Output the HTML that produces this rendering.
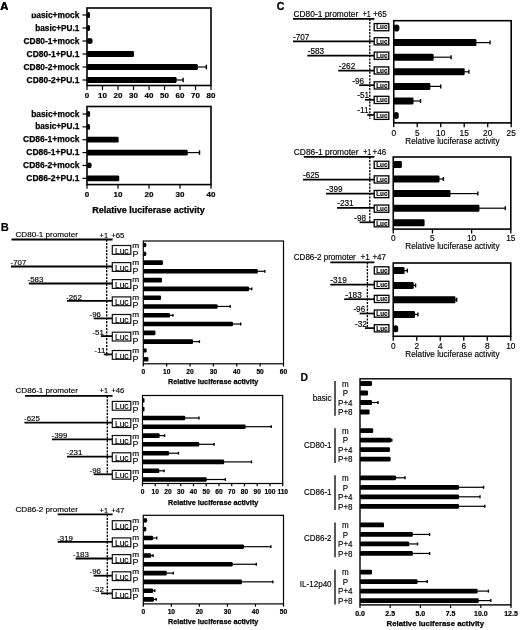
<!DOCTYPE html>
<html><head><meta charset="utf-8"><style>
html,body{margin:0;padding:0;background:#fff;}
svg{display:block;font-family:"Liberation Sans", sans-serif;filter:blur(0.3px);}
</style></head><body>
<svg width="520" height="630" viewBox="0 0 520 630">
<rect x="0" y="0" width="520" height="630" fill="#fff"/>
<text x="0.30" y="9.70" font-size="11.2" font-weight="bold" text-anchor="start" fill="#000" stroke="#000" stroke-width="0.15">A</text>
<rect x="87.00" y="8.00" width="124.00" height="77.50" fill="none" stroke="#000" stroke-width="1.6"/>
<line x1="82.50" y1="15.00" x2="87.00" y2="15.00" stroke="#000" stroke-width="1.2"/>
<rect x="87.00" y="12.00" width="3.00" height="6.00" rx="1.50" fill="#000"/>
<line x1="82.50" y1="28.00" x2="87.00" y2="28.00" stroke="#000" stroke-width="1.2"/>
<rect x="87.00" y="25.00" width="3.00" height="6.00" rx="1.50" fill="#000"/>
<line x1="82.50" y1="41.00" x2="87.00" y2="41.00" stroke="#000" stroke-width="1.2"/>
<rect x="87.00" y="38.00" width="5.58" height="6.00" rx="2.79" fill="#000"/>
<line x1="82.50" y1="54.00" x2="87.00" y2="54.00" stroke="#000" stroke-width="1.2"/>
<rect x="87.00" y="51.00" width="46.97" height="6.00" rx="1.20" fill="#000"/>
<line x1="82.50" y1="67.00" x2="87.00" y2="67.00" stroke="#000" stroke-width="1.2"/>
<rect x="87.00" y="64.00" width="110.83" height="6.00" rx="1.20" fill="#000"/>
<line x1="197.32" y1="67.00" x2="206.35" y2="67.00" stroke="#000" stroke-width="1.2"/>
<line x1="206.35" y1="64.70" x2="206.35" y2="69.30" stroke="#000" stroke-width="1.4"/>
<line x1="82.50" y1="80.00" x2="87.00" y2="80.00" stroke="#000" stroke-width="1.2"/>
<rect x="87.00" y="77.00" width="89.59" height="6.00" rx="1.20" fill="#000"/>
<line x1="176.09" y1="80.00" x2="183.10" y2="80.00" stroke="#000" stroke-width="1.2"/>
<line x1="183.10" y1="77.70" x2="183.10" y2="82.30" stroke="#000" stroke-width="1.4"/>
<line x1="87.00" y1="85.50" x2="87.00" y2="90.10" stroke="#000" stroke-width="1.2"/>
<text x="87.00" y="98.10" font-size="8.0" font-weight="bold" text-anchor="middle" fill="#000" stroke="#000" stroke-width="0.2">0</text>
<line x1="102.50" y1="85.50" x2="102.50" y2="90.10" stroke="#000" stroke-width="1.2"/>
<text x="102.50" y="98.10" font-size="8.0" font-weight="bold" text-anchor="middle" fill="#000" stroke="#000" stroke-width="0.2">10</text>
<line x1="118.00" y1="85.50" x2="118.00" y2="90.10" stroke="#000" stroke-width="1.2"/>
<text x="118.00" y="98.10" font-size="8.0" font-weight="bold" text-anchor="middle" fill="#000" stroke="#000" stroke-width="0.2">20</text>
<line x1="133.50" y1="85.50" x2="133.50" y2="90.10" stroke="#000" stroke-width="1.2"/>
<text x="133.50" y="98.10" font-size="8.0" font-weight="bold" text-anchor="middle" fill="#000" stroke="#000" stroke-width="0.2">30</text>
<line x1="149.00" y1="85.50" x2="149.00" y2="90.10" stroke="#000" stroke-width="1.2"/>
<text x="149.00" y="98.10" font-size="8.0" font-weight="bold" text-anchor="middle" fill="#000" stroke="#000" stroke-width="0.2">40</text>
<line x1="164.50" y1="85.50" x2="164.50" y2="90.10" stroke="#000" stroke-width="1.2"/>
<text x="164.50" y="98.10" font-size="8.0" font-weight="bold" text-anchor="middle" fill="#000" stroke="#000" stroke-width="0.2">50</text>
<line x1="180.00" y1="85.50" x2="180.00" y2="90.10" stroke="#000" stroke-width="1.2"/>
<text x="180.00" y="98.10" font-size="8.0" font-weight="bold" text-anchor="middle" fill="#000" stroke="#000" stroke-width="0.2">60</text>
<line x1="195.50" y1="85.50" x2="195.50" y2="90.10" stroke="#000" stroke-width="1.2"/>
<text x="195.50" y="98.10" font-size="8.0" font-weight="bold" text-anchor="middle" fill="#000" stroke="#000" stroke-width="0.2">70</text>
<line x1="211.00" y1="85.50" x2="211.00" y2="90.10" stroke="#000" stroke-width="1.2"/>
<text x="211.00" y="98.10" font-size="8.0" font-weight="bold" text-anchor="middle" fill="#000" stroke="#000" stroke-width="0.2">80</text>
<rect x="87.00" y="106.50" width="124.00" height="78.10" fill="none" stroke="#000" stroke-width="1.6"/>
<line x1="82.50" y1="114.00" x2="87.00" y2="114.00" stroke="#000" stroke-width="1.2"/>
<rect x="87.00" y="111.10" width="3.10" height="5.80" rx="1.55" fill="#000"/>
<line x1="82.50" y1="126.86" x2="87.00" y2="126.86" stroke="#000" stroke-width="1.2"/>
<rect x="87.00" y="123.96" width="3.00" height="5.80" rx="1.50" fill="#000"/>
<line x1="82.50" y1="139.72" x2="87.00" y2="139.72" stroke="#000" stroke-width="1.2"/>
<rect x="87.00" y="136.82" width="31.62" height="5.80" rx="1.20" fill="#000"/>
<line x1="82.50" y1="152.58" x2="87.00" y2="152.58" stroke="#000" stroke-width="1.2"/>
<rect x="87.00" y="149.68" width="100.75" height="5.80" rx="1.20" fill="#000"/>
<line x1="187.25" y1="152.58" x2="199.53" y2="152.58" stroke="#000" stroke-width="1.2"/>
<line x1="199.53" y1="150.28" x2="199.53" y2="154.88" stroke="#000" stroke-width="1.4"/>
<line x1="82.50" y1="165.44" x2="87.00" y2="165.44" stroke="#000" stroke-width="1.2"/>
<rect x="87.00" y="162.54" width="4.65" height="5.80" rx="2.33" fill="#000"/>
<line x1="82.50" y1="178.30" x2="87.00" y2="178.30" stroke="#000" stroke-width="1.2"/>
<rect x="87.00" y="175.40" width="32.24" height="5.80" rx="1.20" fill="#000"/>
<line x1="87.00" y1="184.60" x2="87.00" y2="188.80" stroke="#000" stroke-width="1.2"/>
<text x="87.00" y="197.10" font-size="8.0" font-weight="bold" text-anchor="middle" fill="#000" stroke="#000" stroke-width="0.2">0</text>
<line x1="118.00" y1="184.60" x2="118.00" y2="188.80" stroke="#000" stroke-width="1.2"/>
<text x="118.00" y="197.10" font-size="8.0" font-weight="bold" text-anchor="middle" fill="#000" stroke="#000" stroke-width="0.2">10</text>
<line x1="149.00" y1="184.60" x2="149.00" y2="188.80" stroke="#000" stroke-width="1.2"/>
<text x="149.00" y="197.10" font-size="8.0" font-weight="bold" text-anchor="middle" fill="#000" stroke="#000" stroke-width="0.2">20</text>
<line x1="180.00" y1="184.60" x2="180.00" y2="188.80" stroke="#000" stroke-width="1.2"/>
<text x="180.00" y="197.10" font-size="8.0" font-weight="bold" text-anchor="middle" fill="#000" stroke="#000" stroke-width="0.2">30</text>
<line x1="211.00" y1="184.60" x2="211.00" y2="188.80" stroke="#000" stroke-width="1.2"/>
<text x="211.00" y="197.10" font-size="8.0" font-weight="bold" text-anchor="middle" fill="#000" stroke="#000" stroke-width="0.2">40</text>
<text x="92.30" y="213.30" font-size="8.8" font-weight="bold" text-anchor="start" textLength="112.5" lengthAdjust="spacingAndGlyphs" fill="#000" stroke="#000" stroke-width="0.25">Relative luciferase activity</text>
<text x="79.40" y="17.50" font-size="8.4" font-weight="bold" text-anchor="end" textLength="48.2" lengthAdjust="spacingAndGlyphs" fill="#000" stroke="#000" stroke-width="0.25">basic+mock</text>
<text x="79.40" y="30.50" font-size="8.4" font-weight="bold" text-anchor="end" textLength="44.2" lengthAdjust="spacingAndGlyphs" fill="#000" stroke="#000" stroke-width="0.25">basic+PU.1</text>
<text x="79.40" y="43.50" font-size="8.4" font-weight="bold" text-anchor="end" textLength="55.9" lengthAdjust="spacingAndGlyphs" fill="#000" stroke="#000" stroke-width="0.25">CD80-1+mock</text>
<text x="79.40" y="56.50" font-size="8.4" font-weight="bold" text-anchor="end" textLength="52.8" lengthAdjust="spacingAndGlyphs" fill="#000" stroke="#000" stroke-width="0.25">CD80-1+PU.1</text>
<text x="79.40" y="69.50" font-size="8.4" font-weight="bold" text-anchor="end" textLength="55.9" lengthAdjust="spacingAndGlyphs" fill="#000" stroke="#000" stroke-width="0.25">CD80-2+mock</text>
<text x="79.40" y="82.50" font-size="8.4" font-weight="bold" text-anchor="end" textLength="52.8" lengthAdjust="spacingAndGlyphs" fill="#000" stroke="#000" stroke-width="0.25">CD80-2+PU.1</text>
<text x="79.40" y="116.50" font-size="8.4" font-weight="bold" text-anchor="end" textLength="48.2" lengthAdjust="spacingAndGlyphs" fill="#000" stroke="#000" stroke-width="0.25">basic+mock</text>
<text x="79.40" y="129.36" font-size="8.4" font-weight="bold" text-anchor="end" textLength="44.2" lengthAdjust="spacingAndGlyphs" fill="#000" stroke="#000" stroke-width="0.25">basic+PU.1</text>
<text x="79.40" y="142.22" font-size="8.4" font-weight="bold" text-anchor="end" textLength="56.4" lengthAdjust="spacingAndGlyphs" fill="#000" stroke="#000" stroke-width="0.25">CD86-1+mock</text>
<text x="79.40" y="155.08" font-size="8.4" font-weight="bold" text-anchor="end" textLength="53.1" lengthAdjust="spacingAndGlyphs" fill="#000" stroke="#000" stroke-width="0.25">CD86-1+PU.1</text>
<text x="79.40" y="167.94" font-size="8.4" font-weight="bold" text-anchor="end" textLength="56.4" lengthAdjust="spacingAndGlyphs" fill="#000" stroke="#000" stroke-width="0.25">CD86-2+mock</text>
<text x="79.40" y="180.80" font-size="8.4" font-weight="bold" text-anchor="end" textLength="53.1" lengthAdjust="spacingAndGlyphs" fill="#000" stroke="#000" stroke-width="0.25">CD86-2+PU.1</text>
<rect x="20.00" y="0.00" width="18.50" height="13.60" fill="#fff"/>
<text x="0.30" y="9.70" font-size="11.2" font-weight="bold" text-anchor="start" fill="#000" stroke="#000" stroke-width="0.15">A</text>
<text x="276.80" y="9.60" font-size="10.6" font-weight="bold" text-anchor="start" fill="#000" stroke="#000" stroke-width="0.3">C</text>
<text x="293.50" y="16.60" font-size="8.4" text-anchor="start" fill="#000" stroke="#000" stroke-width="0.15">CD80-1 promoter</text>
<line x1="293.00" y1="18.80" x2="374.40" y2="18.80" stroke="#000" stroke-width="1.7"/>
<text x="362.70" y="16.60" font-size="8.4" text-anchor="start" textLength="7.9" lengthAdjust="spacingAndGlyphs" fill="#000" stroke="#000" stroke-width="0.15">+1</text>
<text x="373.20" y="16.60" font-size="8.4" text-anchor="start" textLength="13.6" lengthAdjust="spacingAndGlyphs" fill="#000" stroke="#000" stroke-width="0.15">+65</text>
<line x1="369.80" y1="18.80" x2="369.80" y2="119.00" stroke="#000" stroke-width="1.3" stroke-dasharray="2.2,1.1"/>
<text x="293.00" y="39.80" font-size="8.2" text-anchor="start" fill="#000" stroke="#000" stroke-width="0.15">-707</text>
<line x1="293.00" y1="41.40" x2="374.40" y2="41.40" stroke="#000" stroke-width="1.7"/>
<text x="307.70" y="54.10" font-size="8.2" text-anchor="start" fill="#000" stroke="#000" stroke-width="0.15">-583</text>
<line x1="307.30" y1="55.70" x2="374.40" y2="55.70" stroke="#000" stroke-width="1.7"/>
<text x="338.80" y="69.00" font-size="8.2" text-anchor="start" fill="#000" stroke="#000" stroke-width="0.15">-262</text>
<line x1="338.20" y1="70.60" x2="374.40" y2="70.60" stroke="#000" stroke-width="1.7"/>
<text x="352.20" y="83.60" font-size="8.2" text-anchor="start" fill="#000" stroke="#000" stroke-width="0.15">-96</text>
<line x1="359.20" y1="85.20" x2="374.40" y2="85.20" stroke="#000" stroke-width="1.7"/>
<text x="357.30" y="98.20" font-size="8.2" text-anchor="start" fill="#000" stroke="#000" stroke-width="0.15">-51</text>
<line x1="365.00" y1="99.80" x2="374.40" y2="99.80" stroke="#000" stroke-width="1.7"/>
<text x="357.30" y="113.30" font-size="8.2" text-anchor="start" fill="#000" stroke="#000" stroke-width="0.15">-11</text>
<line x1="367.20" y1="114.90" x2="374.40" y2="114.90" stroke="#000" stroke-width="1.7"/>
<rect x="374.20" y="23.55" width="14.60" height="7.20" fill="#fff" stroke="#000" stroke-width="1.3"/>
<text x="381.80" y="29.45" font-size="6.6" font-weight="bold" text-anchor="middle" textLength="11.3" lengthAdjust="spacingAndGlyphs" fill="#000" stroke="#000" stroke-width="0.15">Luc</text>
<rect x="374.20" y="37.70" width="14.60" height="7.20" fill="#fff" stroke="#000" stroke-width="1.3"/>
<text x="381.80" y="43.60" font-size="6.6" font-weight="bold" text-anchor="middle" textLength="11.3" lengthAdjust="spacingAndGlyphs" fill="#000" stroke="#000" stroke-width="0.15">Luc</text>
<rect x="374.20" y="52.10" width="14.60" height="7.20" fill="#fff" stroke="#000" stroke-width="1.3"/>
<text x="381.80" y="58.00" font-size="6.6" font-weight="bold" text-anchor="middle" textLength="11.3" lengthAdjust="spacingAndGlyphs" fill="#000" stroke="#000" stroke-width="0.15">Luc</text>
<rect x="374.20" y="66.90" width="14.60" height="7.20" fill="#fff" stroke="#000" stroke-width="1.3"/>
<text x="381.80" y="72.80" font-size="6.6" font-weight="bold" text-anchor="middle" textLength="11.3" lengthAdjust="spacingAndGlyphs" fill="#000" stroke="#000" stroke-width="0.15">Luc</text>
<rect x="374.20" y="81.80" width="14.60" height="7.20" fill="#fff" stroke="#000" stroke-width="1.3"/>
<text x="381.80" y="87.70" font-size="6.6" font-weight="bold" text-anchor="middle" textLength="11.3" lengthAdjust="spacingAndGlyphs" fill="#000" stroke="#000" stroke-width="0.15">Luc</text>
<rect x="374.20" y="96.30" width="14.60" height="7.20" fill="#fff" stroke="#000" stroke-width="1.3"/>
<text x="381.80" y="102.20" font-size="6.6" font-weight="bold" text-anchor="middle" textLength="11.3" lengthAdjust="spacingAndGlyphs" fill="#000" stroke="#000" stroke-width="0.15">Luc</text>
<rect x="374.20" y="112.20" width="14.60" height="7.20" fill="#fff" stroke="#000" stroke-width="1.3"/>
<text x="381.80" y="118.10" font-size="6.6" font-weight="bold" text-anchor="middle" textLength="11.3" lengthAdjust="spacingAndGlyphs" fill="#000" stroke="#000" stroke-width="0.15">Luc</text>
<rect x="393.75" y="20.70" width="117.45" height="102.20" fill="none" stroke="#000" stroke-width="1.6"/>
<rect x="393.75" y="24.50" width="5.64" height="7.00" rx="2.82" fill="#000"/>
<rect x="393.75" y="39.10" width="82.68" height="7.00" rx="1.20" fill="#000"/>
<line x1="475.93" y1="42.60" x2="490.06" y2="42.60" stroke="#000" stroke-width="1.2"/>
<line x1="490.06" y1="40.60" x2="490.06" y2="44.60" stroke="#000" stroke-width="1.4"/>
<rect x="393.75" y="53.70" width="39.93" height="7.00" rx="1.20" fill="#000"/>
<line x1="433.18" y1="57.20" x2="451.07" y2="57.20" stroke="#000" stroke-width="1.2"/>
<line x1="451.07" y1="55.20" x2="451.07" y2="59.20" stroke="#000" stroke-width="1.4"/>
<rect x="393.75" y="68.30" width="70.94" height="7.00" rx="1.20" fill="#000"/>
<line x1="464.19" y1="71.80" x2="468.92" y2="71.80" stroke="#000" stroke-width="1.2"/>
<line x1="468.92" y1="69.80" x2="468.92" y2="73.80" stroke="#000" stroke-width="1.4"/>
<rect x="393.75" y="82.90" width="36.64" height="7.00" rx="1.20" fill="#000"/>
<line x1="429.89" y1="86.40" x2="440.73" y2="86.40" stroke="#000" stroke-width="1.2"/>
<line x1="440.73" y1="84.40" x2="440.73" y2="88.40" stroke="#000" stroke-width="1.4"/>
<rect x="393.75" y="97.50" width="19.73" height="7.00" rx="1.20" fill="#000"/>
<line x1="412.98" y1="101.00" x2="420.53" y2="101.00" stroke="#000" stroke-width="1.2"/>
<line x1="420.53" y1="99.00" x2="420.53" y2="103.00" stroke="#000" stroke-width="1.4"/>
<rect x="393.75" y="112.10" width="5.00" height="7.00" rx="2.50" fill="#000"/>
<line x1="393.75" y1="122.90" x2="393.75" y2="127.30" stroke="#000" stroke-width="1.3"/>
<text x="393.75" y="135.50" font-size="8.3" text-anchor="middle" fill="#000" stroke="#000" stroke-width="0.15">0</text>
<line x1="417.24" y1="122.90" x2="417.24" y2="127.30" stroke="#000" stroke-width="1.3"/>
<text x="417.24" y="135.50" font-size="8.3" text-anchor="middle" fill="#000" stroke="#000" stroke-width="0.15">5</text>
<line x1="440.73" y1="122.90" x2="440.73" y2="127.30" stroke="#000" stroke-width="1.3"/>
<text x="440.73" y="135.50" font-size="8.3" text-anchor="middle" fill="#000" stroke="#000" stroke-width="0.15">10</text>
<line x1="464.22" y1="122.90" x2="464.22" y2="127.30" stroke="#000" stroke-width="1.3"/>
<text x="464.22" y="135.50" font-size="8.3" text-anchor="middle" fill="#000" stroke="#000" stroke-width="0.15">15</text>
<line x1="487.71" y1="122.90" x2="487.71" y2="127.30" stroke="#000" stroke-width="1.3"/>
<text x="487.71" y="135.50" font-size="8.3" text-anchor="middle" fill="#000" stroke="#000" stroke-width="0.15">20</text>
<line x1="511.20" y1="122.90" x2="511.20" y2="127.30" stroke="#000" stroke-width="1.3"/>
<text x="511.20" y="135.50" font-size="8.3" text-anchor="middle" fill="#000" stroke="#000" stroke-width="0.15">25</text>
<text x="405.30" y="144.10" font-size="8.6" text-anchor="start" textLength="94.2" lengthAdjust="spacingAndGlyphs" fill="#000" stroke="#000" stroke-width="0.15">Relative luciferase activity</text>
<text x="293.80" y="154.50" font-size="8.4" text-anchor="start" fill="#000" stroke="#000" stroke-width="0.15">CD86-1 promoter</text>
<line x1="303.80" y1="156.80" x2="374.40" y2="156.80" stroke="#000" stroke-width="1.7"/>
<text x="363.20" y="154.50" font-size="8.4" text-anchor="start" textLength="7.9" lengthAdjust="spacingAndGlyphs" fill="#000" stroke="#000" stroke-width="0.15">+1</text>
<text x="372.60" y="154.50" font-size="8.4" text-anchor="start" textLength="13.6" lengthAdjust="spacingAndGlyphs" fill="#000" stroke="#000" stroke-width="0.15">+46</text>
<line x1="369.80" y1="156.80" x2="369.80" y2="222.00" stroke="#000" stroke-width="1.3" stroke-dasharray="2.2,1.1"/>
<text x="303.00" y="178.00" font-size="8.2" text-anchor="start" fill="#000" stroke="#000" stroke-width="0.15">-625</text>
<line x1="303.00" y1="179.60" x2="374.40" y2="179.60" stroke="#000" stroke-width="1.7"/>
<text x="326.20" y="192.10" font-size="8.2" text-anchor="start" fill="#000" stroke="#000" stroke-width="0.15">-399</text>
<line x1="326.00" y1="193.70" x2="374.40" y2="193.70" stroke="#000" stroke-width="1.7"/>
<text x="337.20" y="206.30" font-size="8.2" text-anchor="start" fill="#000" stroke="#000" stroke-width="0.15">-231</text>
<line x1="337.00" y1="207.90" x2="374.40" y2="207.90" stroke="#000" stroke-width="1.7"/>
<text x="354.30" y="220.70" font-size="8.2" text-anchor="start" fill="#000" stroke="#000" stroke-width="0.15">-98</text>
<line x1="359.60" y1="222.30" x2="374.40" y2="222.30" stroke="#000" stroke-width="1.7"/>
<rect x="374.20" y="161.25" width="14.60" height="7.20" fill="#fff" stroke="#000" stroke-width="1.3"/>
<text x="381.80" y="167.15" font-size="6.6" font-weight="bold" text-anchor="middle" textLength="11.3" lengthAdjust="spacingAndGlyphs" fill="#000" stroke="#000" stroke-width="0.15">Luc</text>
<rect x="374.20" y="175.85" width="14.60" height="7.20" fill="#fff" stroke="#000" stroke-width="1.3"/>
<text x="381.80" y="181.75" font-size="6.6" font-weight="bold" text-anchor="middle" textLength="11.3" lengthAdjust="spacingAndGlyphs" fill="#000" stroke="#000" stroke-width="0.15">Luc</text>
<rect x="374.20" y="190.45" width="14.60" height="7.20" fill="#fff" stroke="#000" stroke-width="1.3"/>
<text x="381.80" y="196.35" font-size="6.6" font-weight="bold" text-anchor="middle" textLength="11.3" lengthAdjust="spacingAndGlyphs" fill="#000" stroke="#000" stroke-width="0.15">Luc</text>
<rect x="374.20" y="205.05" width="14.60" height="7.20" fill="#fff" stroke="#000" stroke-width="1.3"/>
<text x="381.80" y="210.95" font-size="6.6" font-weight="bold" text-anchor="middle" textLength="11.3" lengthAdjust="spacingAndGlyphs" fill="#000" stroke="#000" stroke-width="0.15">Luc</text>
<rect x="374.20" y="219.65" width="14.60" height="7.20" fill="#fff" stroke="#000" stroke-width="1.3"/>
<text x="381.80" y="225.55" font-size="6.6" font-weight="bold" text-anchor="middle" textLength="11.3" lengthAdjust="spacingAndGlyphs" fill="#000" stroke="#000" stroke-width="0.15">Luc</text>
<rect x="393.25" y="157.00" width="117.55" height="72.10" fill="none" stroke="#000" stroke-width="1.6"/>
<rect x="393.25" y="160.90" width="8.62" height="7.00" rx="1.20" fill="#000"/>
<rect x="393.25" y="175.50" width="46.24" height="7.00" rx="1.20" fill="#000"/>
<line x1="438.99" y1="179.00" x2="443.40" y2="179.00" stroke="#000" stroke-width="1.2"/>
<line x1="443.40" y1="177.00" x2="443.40" y2="181.00" stroke="#000" stroke-width="1.4"/>
<rect x="393.25" y="190.10" width="57.21" height="7.00" rx="1.20" fill="#000"/>
<line x1="449.96" y1="193.60" x2="477.89" y2="193.60" stroke="#000" stroke-width="1.2"/>
<line x1="477.89" y1="191.60" x2="477.89" y2="195.60" stroke="#000" stroke-width="1.4"/>
<rect x="393.25" y="204.70" width="86.20" height="7.00" rx="1.20" fill="#000"/>
<line x1="478.95" y1="208.20" x2="505.31" y2="208.20" stroke="#000" stroke-width="1.2"/>
<line x1="505.31" y1="206.20" x2="505.31" y2="210.20" stroke="#000" stroke-width="1.4"/>
<rect x="393.25" y="219.30" width="31.35" height="7.00" rx="1.20" fill="#000"/>
<line x1="393.25" y1="229.10" x2="393.25" y2="233.50" stroke="#000" stroke-width="1.3"/>
<text x="393.25" y="240.80" font-size="8.3" text-anchor="middle" fill="#000" stroke="#000" stroke-width="0.15">0</text>
<line x1="432.43" y1="229.10" x2="432.43" y2="233.50" stroke="#000" stroke-width="1.3"/>
<text x="432.43" y="240.80" font-size="8.3" text-anchor="middle" fill="#000" stroke="#000" stroke-width="0.15">5</text>
<line x1="471.62" y1="229.10" x2="471.62" y2="233.50" stroke="#000" stroke-width="1.3"/>
<text x="471.62" y="240.80" font-size="8.3" text-anchor="middle" fill="#000" stroke="#000" stroke-width="0.15">10</text>
<line x1="510.80" y1="229.10" x2="510.80" y2="233.50" stroke="#000" stroke-width="1.3"/>
<text x="510.80" y="240.80" font-size="8.3" text-anchor="middle" fill="#000" stroke="#000" stroke-width="0.15">15</text>
<text x="405.30" y="249.10" font-size="8.6" text-anchor="start" textLength="94.2" lengthAdjust="spacingAndGlyphs" fill="#000" stroke="#000" stroke-width="0.15">Relative luciferase activity</text>
<text x="293.80" y="260.10" font-size="8.4" text-anchor="start" textLength="62.0" lengthAdjust="spacingAndGlyphs" fill="#000" stroke="#000" stroke-width="0.15">CD86-2 promoter</text>
<line x1="330.30" y1="262.30" x2="374.40" y2="262.30" stroke="#000" stroke-width="1.7"/>
<text x="360.50" y="260.10" font-size="8.4" text-anchor="start" textLength="9.4" lengthAdjust="spacingAndGlyphs" fill="#000" stroke="#000" stroke-width="0.15">+1</text>
<text x="372.40" y="260.10" font-size="8.4" text-anchor="start" textLength="13.6" lengthAdjust="spacingAndGlyphs" fill="#000" stroke="#000" stroke-width="0.15">+47</text>
<line x1="367.40" y1="262.30" x2="367.40" y2="328.00" stroke="#000" stroke-width="1.3" stroke-dasharray="2.2,1.1"/>
<text x="330.30" y="283.10" font-size="8.2" text-anchor="start" fill="#000" stroke="#000" stroke-width="0.15">-319</text>
<line x1="330.30" y1="284.70" x2="374.40" y2="284.70" stroke="#000" stroke-width="1.7"/>
<text x="345.30" y="297.60" font-size="8.2" text-anchor="start" fill="#000" stroke="#000" stroke-width="0.15">-183</text>
<line x1="344.20" y1="299.20" x2="374.40" y2="299.20" stroke="#000" stroke-width="1.7"/>
<text x="353.40" y="311.90" font-size="8.2" text-anchor="start" fill="#000" stroke="#000" stroke-width="0.15">-96</text>
<line x1="359.60" y1="313.50" x2="374.40" y2="313.50" stroke="#000" stroke-width="1.7"/>
<text x="355.00" y="326.50" font-size="8.2" text-anchor="start" fill="#000" stroke="#000" stroke-width="0.15">-32</text>
<line x1="365.00" y1="328.10" x2="374.40" y2="328.10" stroke="#000" stroke-width="1.7"/>
<rect x="374.30" y="266.80" width="14.60" height="7.20" fill="#fff" stroke="#000" stroke-width="1.3"/>
<text x="381.90" y="272.70" font-size="6.6" font-weight="bold" text-anchor="middle" textLength="11.3" lengthAdjust="spacingAndGlyphs" fill="#000" stroke="#000" stroke-width="0.15">Luc</text>
<rect x="374.30" y="281.30" width="14.60" height="7.20" fill="#fff" stroke="#000" stroke-width="1.3"/>
<text x="381.90" y="287.20" font-size="6.6" font-weight="bold" text-anchor="middle" textLength="11.3" lengthAdjust="spacingAndGlyphs" fill="#000" stroke="#000" stroke-width="0.15">Luc</text>
<rect x="374.30" y="295.30" width="14.60" height="7.20" fill="#fff" stroke="#000" stroke-width="1.3"/>
<text x="381.90" y="301.20" font-size="6.6" font-weight="bold" text-anchor="middle" textLength="11.3" lengthAdjust="spacingAndGlyphs" fill="#000" stroke="#000" stroke-width="0.15">Luc</text>
<rect x="374.30" y="310.00" width="14.60" height="7.20" fill="#fff" stroke="#000" stroke-width="1.3"/>
<text x="381.90" y="315.90" font-size="6.6" font-weight="bold" text-anchor="middle" textLength="11.3" lengthAdjust="spacingAndGlyphs" fill="#000" stroke="#000" stroke-width="0.15">Luc</text>
<rect x="374.30" y="324.70" width="14.60" height="7.20" fill="#fff" stroke="#000" stroke-width="1.3"/>
<text x="381.90" y="330.60" font-size="6.6" font-weight="bold" text-anchor="middle" textLength="11.3" lengthAdjust="spacingAndGlyphs" fill="#000" stroke="#000" stroke-width="0.15">Luc</text>
<rect x="393.25" y="263.00" width="117.50" height="73.25" fill="none" stroke="#000" stroke-width="1.6"/>
<rect x="393.25" y="267.10" width="11.28" height="7.00" rx="1.20" fill="#000"/>
<line x1="404.03" y1="270.60" x2="407.35" y2="270.60" stroke="#000" stroke-width="1.2"/>
<line x1="407.35" y1="268.60" x2="407.35" y2="272.60" stroke="#000" stroke-width="1.4"/>
<rect x="393.25" y="281.90" width="20.45" height="7.00" rx="1.20" fill="#000"/>
<line x1="413.19" y1="285.40" x2="415.57" y2="285.40" stroke="#000" stroke-width="1.2"/>
<line x1="415.57" y1="283.40" x2="415.57" y2="287.40" stroke="#000" stroke-width="1.4"/>
<rect x="393.25" y="296.30" width="62.27" height="7.00" rx="1.20" fill="#000"/>
<line x1="455.02" y1="299.80" x2="456.70" y2="299.80" stroke="#000" stroke-width="1.2"/>
<line x1="456.70" y1="297.80" x2="456.70" y2="301.80" stroke="#000" stroke-width="1.4"/>
<rect x="393.25" y="310.90" width="21.74" height="7.00" rx="1.20" fill="#000"/>
<line x1="414.49" y1="314.40" x2="417.93" y2="314.40" stroke="#000" stroke-width="1.2"/>
<line x1="417.93" y1="312.40" x2="417.93" y2="316.40" stroke="#000" stroke-width="1.4"/>
<rect x="393.25" y="325.25" width="5.00" height="7.00" rx="2.50" fill="#000"/>
<line x1="393.25" y1="336.25" x2="393.25" y2="340.65" stroke="#000" stroke-width="1.3"/>
<text x="393.25" y="348.80" font-size="8.3" text-anchor="middle" fill="#000" stroke="#000" stroke-width="0.15">0</text>
<line x1="416.75" y1="336.25" x2="416.75" y2="340.65" stroke="#000" stroke-width="1.3"/>
<text x="416.75" y="348.80" font-size="8.3" text-anchor="middle" fill="#000" stroke="#000" stroke-width="0.15">2</text>
<line x1="440.25" y1="336.25" x2="440.25" y2="340.65" stroke="#000" stroke-width="1.3"/>
<text x="440.25" y="348.80" font-size="8.3" text-anchor="middle" fill="#000" stroke="#000" stroke-width="0.15">4</text>
<line x1="463.75" y1="336.25" x2="463.75" y2="340.65" stroke="#000" stroke-width="1.3"/>
<text x="463.75" y="348.80" font-size="8.3" text-anchor="middle" fill="#000" stroke="#000" stroke-width="0.15">6</text>
<line x1="487.25" y1="336.25" x2="487.25" y2="340.65" stroke="#000" stroke-width="1.3"/>
<text x="487.25" y="348.80" font-size="8.3" text-anchor="middle" fill="#000" stroke="#000" stroke-width="0.15">8</text>
<line x1="510.75" y1="336.25" x2="510.75" y2="340.65" stroke="#000" stroke-width="1.3"/>
<text x="510.75" y="348.80" font-size="8.3" text-anchor="middle" fill="#000" stroke="#000" stroke-width="0.15">10</text>
<text x="405.30" y="357.10" font-size="8.6" text-anchor="start" textLength="94.2" lengthAdjust="spacingAndGlyphs" fill="#000" stroke="#000" stroke-width="0.15">Relative luciferase activity</text>
<text x="0.80" y="231.00" font-size="11.2" font-weight="bold" text-anchor="start" fill="#000" stroke="#000" stroke-width="0.15">B</text>
<text x="15.50" y="237.20" font-size="8" text-anchor="start" textLength="62.5" lengthAdjust="spacingAndGlyphs" fill="#000" stroke="#000" stroke-width="0.15">CD80-1 promoter</text>
<line x1="11.50" y1="239.50" x2="112.60" y2="239.50" stroke="#000" stroke-width="1.8"/>
<text x="99.60" y="237.70" font-size="8" text-anchor="start" textLength="8.4" lengthAdjust="spacingAndGlyphs" fill="#000" stroke="#000" stroke-width="0.15">+1</text>
<text x="111.20" y="237.70" font-size="8" text-anchor="start" textLength="13.2" lengthAdjust="spacingAndGlyphs" fill="#000" stroke="#000" stroke-width="0.15">+65</text>
<line x1="106.70" y1="239.50" x2="106.70" y2="355.50" stroke="#000" stroke-width="1.35" stroke-dasharray="2.2,1.2"/>
<rect x="112.30" y="245.50" width="18.50" height="8.80" fill="#fff" stroke="#111" stroke-width="1.2"/>
<text x="121.75" y="253.50" font-size="8.6" text-anchor="middle" textLength="13.6" lengthAdjust="spacingAndGlyphs" fill="#000" stroke="#000" stroke-width="0.15">Luc</text>
<text x="132.30" y="248.10" font-size="7.7" text-anchor="start" textLength="6.9" lengthAdjust="spacingAndGlyphs" fill="#000" stroke="#000" stroke-width="0.15">m</text>
<text x="132.40" y="256.80" font-size="8.9" text-anchor="start" fill="#000" stroke="#000" stroke-width="0.1">P</text>
<text x="10.50" y="265.20" font-size="7.9" text-anchor="start" fill="#000" stroke="#000" stroke-width="0.15">-707</text>
<line x1="11.00" y1="266.50" x2="112.40" y2="266.50" stroke="#000" stroke-width="1.8"/>
<rect x="112.30" y="262.60" width="18.50" height="8.80" fill="#fff" stroke="#111" stroke-width="1.2"/>
<text x="121.75" y="270.60" font-size="8.6" text-anchor="middle" textLength="13.6" lengthAdjust="spacingAndGlyphs" fill="#000" stroke="#000" stroke-width="0.15">Luc</text>
<text x="132.30" y="265.20" font-size="7.7" text-anchor="start" textLength="6.9" lengthAdjust="spacingAndGlyphs" fill="#000" stroke="#000" stroke-width="0.15">m</text>
<text x="132.40" y="273.90" font-size="8.9" text-anchor="start" fill="#000" stroke="#000" stroke-width="0.1">P</text>
<text x="27.50" y="282.20" font-size="7.9" text-anchor="start" fill="#000" stroke="#000" stroke-width="0.15">-583</text>
<line x1="28.80" y1="283.50" x2="112.40" y2="283.50" stroke="#000" stroke-width="1.8"/>
<rect x="112.30" y="279.60" width="18.50" height="8.80" fill="#fff" stroke="#111" stroke-width="1.2"/>
<text x="121.75" y="287.60" font-size="8.6" text-anchor="middle" textLength="13.6" lengthAdjust="spacingAndGlyphs" fill="#000" stroke="#000" stroke-width="0.15">Luc</text>
<text x="132.30" y="282.20" font-size="7.7" text-anchor="start" textLength="6.9" lengthAdjust="spacingAndGlyphs" fill="#000" stroke="#000" stroke-width="0.15">m</text>
<text x="132.40" y="290.90" font-size="8.9" text-anchor="start" fill="#000" stroke="#000" stroke-width="0.1">P</text>
<text x="66.00" y="299.50" font-size="7.9" text-anchor="start" fill="#000" stroke="#000" stroke-width="0.15">-262</text>
<line x1="67.00" y1="300.80" x2="112.40" y2="300.80" stroke="#000" stroke-width="1.8"/>
<rect x="112.30" y="296.90" width="18.50" height="8.80" fill="#fff" stroke="#111" stroke-width="1.2"/>
<text x="121.75" y="304.90" font-size="8.6" text-anchor="middle" textLength="13.6" lengthAdjust="spacingAndGlyphs" fill="#000" stroke="#000" stroke-width="0.15">Luc</text>
<text x="132.30" y="299.50" font-size="7.7" text-anchor="start" textLength="6.9" lengthAdjust="spacingAndGlyphs" fill="#000" stroke="#000" stroke-width="0.15">m</text>
<text x="132.40" y="308.20" font-size="8.9" text-anchor="start" fill="#000" stroke="#000" stroke-width="0.1">P</text>
<text x="89.50" y="317.10" font-size="7.9" text-anchor="start" fill="#000" stroke="#000" stroke-width="0.15">-96</text>
<line x1="93.70" y1="318.40" x2="112.40" y2="318.40" stroke="#000" stroke-width="1.8"/>
<rect x="112.30" y="314.50" width="18.50" height="8.80" fill="#fff" stroke="#111" stroke-width="1.2"/>
<text x="121.75" y="322.50" font-size="8.6" text-anchor="middle" textLength="13.6" lengthAdjust="spacingAndGlyphs" fill="#000" stroke="#000" stroke-width="0.15">Luc</text>
<text x="132.30" y="317.10" font-size="7.7" text-anchor="start" textLength="6.9" lengthAdjust="spacingAndGlyphs" fill="#000" stroke="#000" stroke-width="0.15">m</text>
<text x="132.40" y="325.80" font-size="8.9" text-anchor="start" fill="#000" stroke="#000" stroke-width="0.1">P</text>
<text x="92.40" y="334.80" font-size="7.9" text-anchor="start" fill="#000" stroke="#000" stroke-width="0.15">-51</text>
<line x1="101.00" y1="336.10" x2="112.40" y2="336.10" stroke="#000" stroke-width="1.8"/>
<rect x="112.30" y="332.20" width="18.50" height="8.80" fill="#fff" stroke="#111" stroke-width="1.2"/>
<text x="121.75" y="340.20" font-size="8.6" text-anchor="middle" textLength="13.6" lengthAdjust="spacingAndGlyphs" fill="#000" stroke="#000" stroke-width="0.15">Luc</text>
<text x="132.30" y="334.80" font-size="7.7" text-anchor="start" textLength="6.9" lengthAdjust="spacingAndGlyphs" fill="#000" stroke="#000" stroke-width="0.15">m</text>
<text x="132.40" y="343.50" font-size="8.9" text-anchor="start" fill="#000" stroke="#000" stroke-width="0.1">P</text>
<text x="94.50" y="353.10" font-size="7.9" text-anchor="start" fill="#000" stroke="#000" stroke-width="0.15">-11</text>
<line x1="103.80" y1="354.40" x2="112.40" y2="354.40" stroke="#000" stroke-width="1.8"/>
<rect x="112.30" y="350.50" width="18.50" height="8.80" fill="#fff" stroke="#111" stroke-width="1.2"/>
<text x="121.75" y="358.50" font-size="8.6" text-anchor="middle" textLength="13.6" lengthAdjust="spacingAndGlyphs" fill="#000" stroke="#000" stroke-width="0.15">Luc</text>
<text x="132.30" y="353.10" font-size="7.7" text-anchor="start" textLength="6.9" lengthAdjust="spacingAndGlyphs" fill="#000" stroke="#000" stroke-width="0.15">m</text>
<text x="132.40" y="361.80" font-size="8.9" text-anchor="start" fill="#000" stroke="#000" stroke-width="0.1">P</text>
<rect x="143.30" y="241.00" width="140.20" height="122.80" fill="none" stroke="#000" stroke-width="1.2"/>
<rect x="143.30" y="242.70" width="3.00" height="4.60" rx="1.50" fill="#000"/>
<rect x="143.30" y="251.40" width="3.00" height="4.60" rx="1.50" fill="#000"/>
<rect x="143.30" y="260.28" width="19.63" height="4.60" rx="1.20" fill="#000"/>
<rect x="143.30" y="268.98" width="114.50" height="4.60" rx="1.20" fill="#000"/>
<line x1="257.30" y1="271.28" x2="264.81" y2="271.28" stroke="#000" stroke-width="1.2"/>
<line x1="264.81" y1="269.88" x2="264.81" y2="272.68" stroke="#000" stroke-width="1.4"/>
<rect x="143.30" y="277.86" width="18.69" height="4.60" rx="1.20" fill="#000"/>
<rect x="143.30" y="286.56" width="105.85" height="4.60" rx="1.20" fill="#000"/>
<line x1="248.65" y1="288.86" x2="251.72" y2="288.86" stroke="#000" stroke-width="1.2"/>
<line x1="251.72" y1="287.46" x2="251.72" y2="290.26" stroke="#000" stroke-width="1.4"/>
<rect x="143.30" y="295.44" width="17.76" height="4.60" rx="1.20" fill="#000"/>
<rect x="143.30" y="304.14" width="74.31" height="4.60" rx="1.20" fill="#000"/>
<line x1="217.11" y1="306.44" x2="230.22" y2="306.44" stroke="#000" stroke-width="1.2"/>
<line x1="230.22" y1="305.04" x2="230.22" y2="307.84" stroke="#000" stroke-width="1.4"/>
<rect x="143.30" y="313.02" width="26.64" height="4.60" rx="1.20" fill="#000"/>
<line x1="169.44" y1="315.32" x2="172.98" y2="315.32" stroke="#000" stroke-width="1.2"/>
<line x1="172.98" y1="313.92" x2="172.98" y2="316.72" stroke="#000" stroke-width="1.4"/>
<rect x="143.30" y="321.72" width="89.73" height="4.60" rx="1.20" fill="#000"/>
<line x1="232.53" y1="324.02" x2="240.74" y2="324.02" stroke="#000" stroke-width="1.2"/>
<line x1="240.74" y1="322.62" x2="240.74" y2="325.42" stroke="#000" stroke-width="1.4"/>
<rect x="143.30" y="330.60" width="12.15" height="4.60" rx="1.20" fill="#000"/>
<rect x="143.30" y="339.30" width="49.77" height="4.60" rx="1.20" fill="#000"/>
<line x1="192.57" y1="341.60" x2="199.38" y2="341.60" stroke="#000" stroke-width="1.2"/>
<line x1="199.38" y1="340.20" x2="199.38" y2="343.00" stroke="#000" stroke-width="1.4"/>
<rect x="143.30" y="348.18" width="3.50" height="4.60" rx="1.75" fill="#000"/>
<rect x="143.30" y="356.88" width="5.14" height="4.60" rx="1.20" fill="#000"/>
<line x1="143.30" y1="363.80" x2="143.30" y2="366.60" stroke="#000" stroke-width="1.2"/>
<text x="143.30" y="374.40" font-size="6.6" font-weight="bold" text-anchor="middle" fill="#000" stroke="#000" stroke-width="0.2">0</text>
<line x1="166.67" y1="363.80" x2="166.67" y2="366.60" stroke="#000" stroke-width="1.2"/>
<text x="166.67" y="374.40" font-size="6.6" font-weight="bold" text-anchor="middle" fill="#000" stroke="#000" stroke-width="0.2">10</text>
<line x1="190.03" y1="363.80" x2="190.03" y2="366.60" stroke="#000" stroke-width="1.2"/>
<text x="190.03" y="374.40" font-size="6.6" font-weight="bold" text-anchor="middle" fill="#000" stroke="#000" stroke-width="0.2">20</text>
<line x1="213.40" y1="363.80" x2="213.40" y2="366.60" stroke="#000" stroke-width="1.2"/>
<text x="213.40" y="374.40" font-size="6.6" font-weight="bold" text-anchor="middle" fill="#000" stroke="#000" stroke-width="0.2">30</text>
<line x1="236.77" y1="363.80" x2="236.77" y2="366.60" stroke="#000" stroke-width="1.2"/>
<text x="236.77" y="374.40" font-size="6.6" font-weight="bold" text-anchor="middle" fill="#000" stroke="#000" stroke-width="0.2">40</text>
<line x1="260.13" y1="363.80" x2="260.13" y2="366.60" stroke="#000" stroke-width="1.2"/>
<text x="260.13" y="374.40" font-size="6.6" font-weight="bold" text-anchor="middle" fill="#000" stroke="#000" stroke-width="0.2">50</text>
<line x1="283.50" y1="363.80" x2="283.50" y2="366.60" stroke="#000" stroke-width="1.2"/>
<text x="283.50" y="374.40" font-size="6.6" font-weight="bold" text-anchor="middle" fill="#000" stroke="#000" stroke-width="0.2">60</text>
<text x="168.00" y="383.60" font-size="7.4" font-weight="bold" text-anchor="start" textLength="90.3" lengthAdjust="spacingAndGlyphs" fill="#000" stroke="#000" stroke-width="0.25">Relative luciferase activity</text>
<text x="15.50" y="392.50" font-size="8" text-anchor="start" textLength="62.5" lengthAdjust="spacingAndGlyphs" fill="#000" stroke="#000" stroke-width="0.15">CD86-1 promoter</text>
<line x1="25.00" y1="395.80" x2="112.60" y2="395.80" stroke="#000" stroke-width="1.8"/>
<text x="99.60" y="393.00" font-size="8" text-anchor="start" textLength="8.4" lengthAdjust="spacingAndGlyphs" fill="#000" stroke="#000" stroke-width="0.15">+1</text>
<text x="111.20" y="393.00" font-size="8" text-anchor="start" textLength="13.2" lengthAdjust="spacingAndGlyphs" fill="#000" stroke="#000" stroke-width="0.15">+46</text>
<line x1="107.30" y1="395.80" x2="107.30" y2="475.00" stroke="#000" stroke-width="1.35" stroke-dasharray="2.2,1.2"/>
<rect x="112.30" y="401.40" width="18.50" height="8.80" fill="#fff" stroke="#111" stroke-width="1.2"/>
<text x="121.75" y="409.40" font-size="8.6" text-anchor="middle" textLength="13.6" lengthAdjust="spacingAndGlyphs" fill="#000" stroke="#000" stroke-width="0.15">Luc</text>
<text x="132.30" y="404.60" font-size="7.7" text-anchor="start" textLength="6.9" lengthAdjust="spacingAndGlyphs" fill="#000" stroke="#000" stroke-width="0.15">m</text>
<text x="132.40" y="413.00" font-size="8.9" text-anchor="start" fill="#000" stroke="#000" stroke-width="0.1">P</text>
<text x="24.00" y="421.30" font-size="7.9" text-anchor="start" fill="#000" stroke="#000" stroke-width="0.15">-625</text>
<line x1="24.50" y1="422.60" x2="112.40" y2="422.60" stroke="#000" stroke-width="1.8"/>
<rect x="112.30" y="418.70" width="18.50" height="8.80" fill="#fff" stroke="#111" stroke-width="1.2"/>
<text x="121.75" y="426.70" font-size="8.6" text-anchor="middle" textLength="13.6" lengthAdjust="spacingAndGlyphs" fill="#000" stroke="#000" stroke-width="0.15">Luc</text>
<text x="132.30" y="421.90" font-size="7.7" text-anchor="start" textLength="6.9" lengthAdjust="spacingAndGlyphs" fill="#000" stroke="#000" stroke-width="0.15">m</text>
<text x="132.40" y="430.30" font-size="8.9" text-anchor="start" fill="#000" stroke="#000" stroke-width="0.1">P</text>
<text x="51.50" y="438.10" font-size="7.9" text-anchor="start" fill="#000" stroke="#000" stroke-width="0.15">-399</text>
<line x1="52.00" y1="439.40" x2="112.40" y2="439.40" stroke="#000" stroke-width="1.8"/>
<rect x="112.30" y="435.50" width="18.50" height="8.80" fill="#fff" stroke="#111" stroke-width="1.2"/>
<text x="121.75" y="443.50" font-size="8.6" text-anchor="middle" textLength="13.6" lengthAdjust="spacingAndGlyphs" fill="#000" stroke="#000" stroke-width="0.15">Luc</text>
<text x="132.30" y="438.70" font-size="7.7" text-anchor="start" textLength="6.9" lengthAdjust="spacingAndGlyphs" fill="#000" stroke="#000" stroke-width="0.15">m</text>
<text x="132.40" y="447.10" font-size="8.9" text-anchor="start" fill="#000" stroke="#000" stroke-width="0.1">P</text>
<text x="66.50" y="455.40" font-size="7.9" text-anchor="start" fill="#000" stroke="#000" stroke-width="0.15">-231</text>
<line x1="67.00" y1="456.70" x2="112.40" y2="456.70" stroke="#000" stroke-width="1.8"/>
<rect x="112.30" y="452.80" width="18.50" height="8.80" fill="#fff" stroke="#111" stroke-width="1.2"/>
<text x="121.75" y="460.80" font-size="8.6" text-anchor="middle" textLength="13.6" lengthAdjust="spacingAndGlyphs" fill="#000" stroke="#000" stroke-width="0.15">Luc</text>
<text x="132.30" y="456.00" font-size="7.7" text-anchor="start" textLength="6.9" lengthAdjust="spacingAndGlyphs" fill="#000" stroke="#000" stroke-width="0.15">m</text>
<text x="132.40" y="464.40" font-size="8.9" text-anchor="start" fill="#000" stroke="#000" stroke-width="0.1">P</text>
<text x="89.50" y="473.00" font-size="7.9" text-anchor="start" fill="#000" stroke="#000" stroke-width="0.15">-98</text>
<line x1="93.70" y1="474.30" x2="112.40" y2="474.30" stroke="#000" stroke-width="1.8"/>
<rect x="112.30" y="470.40" width="18.50" height="8.80" fill="#fff" stroke="#111" stroke-width="1.2"/>
<text x="121.75" y="478.40" font-size="8.6" text-anchor="middle" textLength="13.6" lengthAdjust="spacingAndGlyphs" fill="#000" stroke="#000" stroke-width="0.15">Luc</text>
<text x="132.30" y="473.60" font-size="7.7" text-anchor="start" textLength="6.9" lengthAdjust="spacingAndGlyphs" fill="#000" stroke="#000" stroke-width="0.15">m</text>
<text x="132.40" y="482.00" font-size="8.9" text-anchor="start" fill="#000" stroke="#000" stroke-width="0.1">P</text>
<rect x="142.50" y="395.50" width="140.20" height="88.00" fill="none" stroke="#000" stroke-width="1.2"/>
<rect x="142.50" y="398.10" width="2.00" height="4.60" rx="1.00" fill="#000"/>
<rect x="142.50" y="406.80" width="2.00" height="4.60" rx="1.00" fill="#000"/>
<rect x="142.50" y="415.70" width="42.82" height="4.60" rx="1.20" fill="#000"/>
<line x1="184.82" y1="418.00" x2="198.96" y2="418.00" stroke="#000" stroke-width="1.2"/>
<line x1="198.96" y1="416.60" x2="198.96" y2="419.40" stroke="#000" stroke-width="1.4"/>
<rect x="142.50" y="424.40" width="103.11" height="4.60" rx="1.20" fill="#000"/>
<line x1="245.11" y1="426.70" x2="271.23" y2="426.70" stroke="#000" stroke-width="1.2"/>
<line x1="271.23" y1="425.30" x2="271.23" y2="428.10" stroke="#000" stroke-width="1.4"/>
<rect x="142.50" y="433.30" width="17.21" height="4.60" rx="1.20" fill="#000"/>
<line x1="159.21" y1="435.60" x2="164.55" y2="435.60" stroke="#000" stroke-width="1.2"/>
<line x1="164.55" y1="434.20" x2="164.55" y2="437.00" stroke="#000" stroke-width="1.4"/>
<rect x="142.50" y="442.00" width="56.72" height="4.60" rx="1.20" fill="#000"/>
<line x1="198.72" y1="444.30" x2="214.13" y2="444.30" stroke="#000" stroke-width="1.2"/>
<line x1="214.13" y1="442.90" x2="214.13" y2="445.70" stroke="#000" stroke-width="1.4"/>
<rect x="142.50" y="450.90" width="26.64" height="4.60" rx="1.20" fill="#000"/>
<line x1="168.64" y1="453.20" x2="178.44" y2="453.20" stroke="#000" stroke-width="1.2"/>
<line x1="178.44" y1="451.80" x2="178.44" y2="454.60" stroke="#000" stroke-width="1.4"/>
<rect x="142.50" y="459.60" width="81.70" height="4.60" rx="1.20" fill="#000"/>
<line x1="223.70" y1="461.90" x2="251.47" y2="461.90" stroke="#000" stroke-width="1.2"/>
<line x1="251.47" y1="460.50" x2="251.47" y2="463.30" stroke="#000" stroke-width="1.4"/>
<rect x="142.50" y="468.50" width="16.82" height="4.60" rx="1.20" fill="#000"/>
<line x1="158.82" y1="470.80" x2="164.04" y2="470.80" stroke="#000" stroke-width="1.2"/>
<line x1="164.04" y1="469.40" x2="164.04" y2="472.20" stroke="#000" stroke-width="1.4"/>
<rect x="142.50" y="477.20" width="64.24" height="4.60" rx="1.20" fill="#000"/>
<line x1="206.24" y1="479.50" x2="225.35" y2="479.50" stroke="#000" stroke-width="1.2"/>
<line x1="225.35" y1="478.10" x2="225.35" y2="480.90" stroke="#000" stroke-width="1.4"/>
<line x1="142.50" y1="483.50" x2="142.50" y2="486.30" stroke="#000" stroke-width="1.2"/>
<text x="142.50" y="494.10" font-size="6.6" font-weight="bold" text-anchor="middle" fill="#000" stroke="#000" stroke-width="0.2">0</text>
<line x1="155.25" y1="483.50" x2="155.25" y2="486.30" stroke="#000" stroke-width="1.2"/>
<text x="155.25" y="494.10" font-size="6.6" font-weight="bold" text-anchor="middle" fill="#000" stroke="#000" stroke-width="0.2">10</text>
<line x1="167.99" y1="483.50" x2="167.99" y2="486.30" stroke="#000" stroke-width="1.2"/>
<text x="167.99" y="494.10" font-size="6.6" font-weight="bold" text-anchor="middle" fill="#000" stroke="#000" stroke-width="0.2">20</text>
<line x1="180.74" y1="483.50" x2="180.74" y2="486.30" stroke="#000" stroke-width="1.2"/>
<text x="180.74" y="494.10" font-size="6.6" font-weight="bold" text-anchor="middle" fill="#000" stroke="#000" stroke-width="0.2">30</text>
<line x1="193.48" y1="483.50" x2="193.48" y2="486.30" stroke="#000" stroke-width="1.2"/>
<text x="193.48" y="494.10" font-size="6.6" font-weight="bold" text-anchor="middle" fill="#000" stroke="#000" stroke-width="0.2">40</text>
<line x1="206.23" y1="483.50" x2="206.23" y2="486.30" stroke="#000" stroke-width="1.2"/>
<text x="206.23" y="494.10" font-size="6.6" font-weight="bold" text-anchor="middle" fill="#000" stroke="#000" stroke-width="0.2">50</text>
<line x1="218.97" y1="483.50" x2="218.97" y2="486.30" stroke="#000" stroke-width="1.2"/>
<text x="218.97" y="494.10" font-size="6.6" font-weight="bold" text-anchor="middle" fill="#000" stroke="#000" stroke-width="0.2">60</text>
<line x1="231.72" y1="483.50" x2="231.72" y2="486.30" stroke="#000" stroke-width="1.2"/>
<text x="231.72" y="494.10" font-size="6.6" font-weight="bold" text-anchor="middle" fill="#000" stroke="#000" stroke-width="0.2">70</text>
<line x1="244.46" y1="483.50" x2="244.46" y2="486.30" stroke="#000" stroke-width="1.2"/>
<text x="244.46" y="494.10" font-size="6.6" font-weight="bold" text-anchor="middle" fill="#000" stroke="#000" stroke-width="0.2">80</text>
<line x1="257.21" y1="483.50" x2="257.21" y2="486.30" stroke="#000" stroke-width="1.2"/>
<text x="257.21" y="494.10" font-size="6.6" font-weight="bold" text-anchor="middle" fill="#000" stroke="#000" stroke-width="0.2">90</text>
<line x1="269.95" y1="483.50" x2="269.95" y2="486.30" stroke="#000" stroke-width="1.2"/>
<text x="269.95" y="494.10" font-size="6.6" font-weight="bold" text-anchor="middle" fill="#000" stroke="#000" stroke-width="0.2">100</text>
<line x1="282.70" y1="483.50" x2="282.70" y2="486.30" stroke="#000" stroke-width="1.2"/>
<text x="282.70" y="494.10" font-size="6.6" font-weight="bold" text-anchor="middle" fill="#000" stroke="#000" stroke-width="0.2">110</text>
<text x="168.00" y="504.50" font-size="7.4" font-weight="bold" text-anchor="start" textLength="90.3" lengthAdjust="spacingAndGlyphs" fill="#000" stroke="#000" stroke-width="0.25">Relative luciferase activity</text>
<text x="15.50" y="512.30" font-size="8" text-anchor="start" textLength="62.5" lengthAdjust="spacingAndGlyphs" fill="#000" stroke="#000" stroke-width="0.15">CD86-2 promoter</text>
<line x1="57.70" y1="514.40" x2="112.60" y2="514.40" stroke="#000" stroke-width="1.8"/>
<text x="99.60" y="512.80" font-size="8" text-anchor="start" textLength="8.4" lengthAdjust="spacingAndGlyphs" fill="#000" stroke="#000" stroke-width="0.15">+1</text>
<text x="111.20" y="512.80" font-size="8" text-anchor="start" textLength="13.2" lengthAdjust="spacingAndGlyphs" fill="#000" stroke="#000" stroke-width="0.15">+47</text>
<line x1="107.30" y1="514.40" x2="107.30" y2="595.00" stroke="#000" stroke-width="1.35" stroke-dasharray="2.2,1.2"/>
<rect x="112.30" y="520.70" width="18.50" height="8.80" fill="#fff" stroke="#111" stroke-width="1.2"/>
<text x="121.75" y="528.70" font-size="8.6" text-anchor="middle" textLength="13.6" lengthAdjust="spacingAndGlyphs" fill="#000" stroke="#000" stroke-width="0.15">Luc</text>
<text x="132.30" y="523.25" font-size="7.7" text-anchor="start" textLength="6.9" lengthAdjust="spacingAndGlyphs" fill="#000" stroke="#000" stroke-width="0.15">m</text>
<text x="132.40" y="531.50" font-size="8.9" text-anchor="start" fill="#000" stroke="#000" stroke-width="0.1">P</text>
<text x="57.20" y="540.50" font-size="7.9" text-anchor="start" fill="#000" stroke="#000" stroke-width="0.15">-319</text>
<line x1="57.70" y1="541.80" x2="112.40" y2="541.80" stroke="#000" stroke-width="1.8"/>
<rect x="112.30" y="537.90" width="18.50" height="8.80" fill="#fff" stroke="#111" stroke-width="1.2"/>
<text x="121.75" y="545.90" font-size="8.6" text-anchor="middle" textLength="13.6" lengthAdjust="spacingAndGlyphs" fill="#000" stroke="#000" stroke-width="0.15">Luc</text>
<text x="132.30" y="540.45" font-size="7.7" text-anchor="start" textLength="6.9" lengthAdjust="spacingAndGlyphs" fill="#000" stroke="#000" stroke-width="0.15">m</text>
<text x="132.40" y="548.70" font-size="8.9" text-anchor="start" fill="#000" stroke="#000" stroke-width="0.1">P</text>
<text x="73.00" y="557.20" font-size="7.9" text-anchor="start" fill="#000" stroke="#000" stroke-width="0.15">-183</text>
<line x1="75.60" y1="558.50" x2="112.40" y2="558.50" stroke="#000" stroke-width="1.8"/>
<rect x="112.30" y="554.60" width="18.50" height="8.80" fill="#fff" stroke="#111" stroke-width="1.2"/>
<text x="121.75" y="562.60" font-size="8.6" text-anchor="middle" textLength="13.6" lengthAdjust="spacingAndGlyphs" fill="#000" stroke="#000" stroke-width="0.15">Luc</text>
<text x="132.30" y="557.15" font-size="7.7" text-anchor="start" textLength="6.9" lengthAdjust="spacingAndGlyphs" fill="#000" stroke="#000" stroke-width="0.15">m</text>
<text x="132.40" y="565.40" font-size="8.9" text-anchor="start" fill="#000" stroke="#000" stroke-width="0.1">P</text>
<text x="89.50" y="574.40" font-size="7.9" text-anchor="start" fill="#000" stroke="#000" stroke-width="0.15">-96</text>
<line x1="93.70" y1="575.70" x2="112.40" y2="575.70" stroke="#000" stroke-width="1.8"/>
<rect x="112.30" y="571.80" width="18.50" height="8.80" fill="#fff" stroke="#111" stroke-width="1.2"/>
<text x="121.75" y="579.80" font-size="8.6" text-anchor="middle" textLength="13.6" lengthAdjust="spacingAndGlyphs" fill="#000" stroke="#000" stroke-width="0.15">Luc</text>
<text x="132.30" y="574.35" font-size="7.7" text-anchor="start" textLength="6.9" lengthAdjust="spacingAndGlyphs" fill="#000" stroke="#000" stroke-width="0.15">m</text>
<text x="132.40" y="582.60" font-size="8.9" text-anchor="start" fill="#000" stroke="#000" stroke-width="0.1">P</text>
<text x="92.40" y="592.10" font-size="7.9" text-anchor="start" fill="#000" stroke="#000" stroke-width="0.15">-32</text>
<line x1="101.00" y1="593.40" x2="112.40" y2="593.40" stroke="#000" stroke-width="1.8"/>
<rect x="112.30" y="589.50" width="18.50" height="8.80" fill="#fff" stroke="#111" stroke-width="1.2"/>
<text x="121.75" y="597.50" font-size="8.6" text-anchor="middle" textLength="13.6" lengthAdjust="spacingAndGlyphs" fill="#000" stroke="#000" stroke-width="0.15">Luc</text>
<text x="132.30" y="592.05" font-size="7.7" text-anchor="start" textLength="6.9" lengthAdjust="spacingAndGlyphs" fill="#000" stroke="#000" stroke-width="0.15">m</text>
<text x="132.40" y="600.30" font-size="8.9" text-anchor="start" fill="#000" stroke="#000" stroke-width="0.1">P</text>
<rect x="143.30" y="515.30" width="140.20" height="88.60" fill="none" stroke="#000" stroke-width="1.2"/>
<rect x="143.30" y="518.10" width="3.93" height="4.60" rx="1.96" fill="#000"/>
<rect x="143.30" y="526.80" width="3.00" height="4.60" rx="1.50" fill="#000"/>
<rect x="143.30" y="535.68" width="9.81" height="4.60" rx="1.20" fill="#000"/>
<line x1="152.61" y1="537.98" x2="156.76" y2="537.98" stroke="#000" stroke-width="1.2"/>
<line x1="156.76" y1="536.58" x2="156.76" y2="539.38" stroke="#000" stroke-width="1.4"/>
<rect x="143.30" y="544.38" width="100.66" height="4.60" rx="1.20" fill="#000"/>
<line x1="243.46" y1="546.68" x2="270.88" y2="546.68" stroke="#000" stroke-width="1.2"/>
<line x1="270.88" y1="545.28" x2="270.88" y2="548.08" stroke="#000" stroke-width="1.4"/>
<rect x="143.30" y="553.26" width="7.85" height="4.60" rx="1.20" fill="#000"/>
<line x1="150.65" y1="555.56" x2="153.11" y2="555.56" stroke="#000" stroke-width="1.2"/>
<line x1="153.11" y1="554.16" x2="153.11" y2="556.96" stroke="#000" stroke-width="1.4"/>
<rect x="143.30" y="561.96" width="89.45" height="4.60" rx="1.20" fill="#000"/>
<line x1="232.25" y1="564.26" x2="256.30" y2="564.26" stroke="#000" stroke-width="1.2"/>
<line x1="256.30" y1="562.86" x2="256.30" y2="565.66" stroke="#000" stroke-width="1.4"/>
<rect x="143.30" y="570.84" width="23.55" height="4.60" rx="1.20" fill="#000"/>
<line x1="166.35" y1="573.14" x2="173.30" y2="573.14" stroke="#000" stroke-width="1.2"/>
<line x1="173.30" y1="571.74" x2="173.30" y2="574.54" stroke="#000" stroke-width="1.4"/>
<rect x="143.30" y="579.54" width="98.70" height="4.60" rx="1.20" fill="#000"/>
<line x1="241.50" y1="581.84" x2="272.84" y2="581.84" stroke="#000" stroke-width="1.2"/>
<line x1="272.84" y1="580.44" x2="272.84" y2="583.24" stroke="#000" stroke-width="1.4"/>
<rect x="143.30" y="588.42" width="9.81" height="4.60" rx="1.20" fill="#000"/>
<line x1="152.61" y1="590.72" x2="154.80" y2="590.72" stroke="#000" stroke-width="1.2"/>
<line x1="154.80" y1="589.32" x2="154.80" y2="592.12" stroke="#000" stroke-width="1.4"/>
<rect x="143.30" y="597.12" width="10.66" height="4.60" rx="1.20" fill="#000"/>
<line x1="153.46" y1="599.42" x2="156.20" y2="599.42" stroke="#000" stroke-width="1.2"/>
<line x1="156.20" y1="598.02" x2="156.20" y2="600.82" stroke="#000" stroke-width="1.4"/>
<line x1="143.30" y1="603.90" x2="143.30" y2="606.70" stroke="#000" stroke-width="1.2"/>
<text x="143.30" y="614.40" font-size="6.6" font-weight="bold" text-anchor="middle" fill="#000" stroke="#000" stroke-width="0.2">0</text>
<line x1="171.34" y1="603.90" x2="171.34" y2="606.70" stroke="#000" stroke-width="1.2"/>
<text x="171.34" y="614.40" font-size="6.6" font-weight="bold" text-anchor="middle" fill="#000" stroke="#000" stroke-width="0.2">10</text>
<line x1="199.38" y1="603.90" x2="199.38" y2="606.70" stroke="#000" stroke-width="1.2"/>
<text x="199.38" y="614.40" font-size="6.6" font-weight="bold" text-anchor="middle" fill="#000" stroke="#000" stroke-width="0.2">20</text>
<line x1="227.42" y1="603.90" x2="227.42" y2="606.70" stroke="#000" stroke-width="1.2"/>
<text x="227.42" y="614.40" font-size="6.6" font-weight="bold" text-anchor="middle" fill="#000" stroke="#000" stroke-width="0.2">30</text>
<line x1="255.46" y1="603.90" x2="255.46" y2="606.70" stroke="#000" stroke-width="1.2"/>
<text x="255.46" y="614.40" font-size="6.6" font-weight="bold" text-anchor="middle" fill="#000" stroke="#000" stroke-width="0.2">40</text>
<line x1="283.50" y1="603.90" x2="283.50" y2="606.70" stroke="#000" stroke-width="1.2"/>
<text x="283.50" y="614.40" font-size="6.6" font-weight="bold" text-anchor="middle" fill="#000" stroke="#000" stroke-width="0.2">50</text>
<text x="168.00" y="623.70" font-size="7.4" font-weight="bold" text-anchor="start" textLength="90.3" lengthAdjust="spacingAndGlyphs" fill="#000" stroke="#000" stroke-width="0.25">Relative luciferase activity</text>
<text x="300.60" y="381.40" font-size="10.4" font-weight="bold" text-anchor="start" fill="#000" stroke="#000" stroke-width="0.2">D</text>
<rect x="360.00" y="378.80" width="151.00" height="226.10" fill="none" stroke="#000" stroke-width="1.4"/>
<rect x="360.00" y="381.10" width="12.00" height="4.80" rx="1.20" fill="#000"/>
<text x="345.30" y="386.80" font-size="8.7" text-anchor="middle" textLength="6.7" lengthAdjust="spacingAndGlyphs" fill="#000" stroke="#000" stroke-width="0.15">m</text>
<rect x="360.00" y="390.60" width="8.04" height="4.80" rx="1.20" fill="#000"/>
<text x="345.30" y="396.30" font-size="8.7" text-anchor="middle" textLength="5.3" lengthAdjust="spacingAndGlyphs" fill="#000" stroke="#000" stroke-width="0.15">P</text>
<rect x="360.00" y="400.10" width="12.00" height="4.80" rx="1.20" fill="#000"/>
<line x1="371.50" y1="402.50" x2="378.00" y2="402.50" stroke="#000" stroke-width="1.2"/>
<line x1="378.00" y1="401.00" x2="378.00" y2="404.00" stroke="#000" stroke-width="1.4"/>
<text x="345.30" y="405.80" font-size="8.7" text-anchor="middle" textLength="14.5" lengthAdjust="spacingAndGlyphs" fill="#000" stroke="#000" stroke-width="0.15">P+4</text>
<rect x="360.00" y="409.60" width="9.60" height="4.80" rx="1.20" fill="#000"/>
<text x="345.30" y="415.30" font-size="8.7" text-anchor="middle" textLength="14.5" lengthAdjust="spacingAndGlyphs" fill="#000" stroke="#000" stroke-width="0.15">P+8</text>
<line x1="335.00" y1="381.00" x2="335.00" y2="415.80" stroke="#000" stroke-width="1.3"/>
<text x="331.60" y="401.05" font-size="8.7" text-anchor="end" textLength="18.8" lengthAdjust="spacingAndGlyphs" fill="#000" stroke="#000" stroke-width="0.15">basic</text>
<rect x="360.00" y="428.25" width="13.20" height="4.80" rx="1.20" fill="#000"/>
<text x="345.30" y="433.95" font-size="8.7" text-anchor="middle" textLength="6.7" lengthAdjust="spacingAndGlyphs" fill="#000" stroke="#000" stroke-width="0.15">m</text>
<rect x="360.00" y="437.75" width="31.20" height="4.80" rx="1.20" fill="#000"/>
<line x1="390.70" y1="440.15" x2="391.80" y2="440.15" stroke="#000" stroke-width="1.2"/>
<line x1="391.80" y1="438.65" x2="391.80" y2="441.65" stroke="#000" stroke-width="1.4"/>
<text x="345.30" y="443.45" font-size="8.7" text-anchor="middle" textLength="5.3" lengthAdjust="spacingAndGlyphs" fill="#000" stroke="#000" stroke-width="0.15">P</text>
<rect x="360.00" y="447.25" width="30.00" height="4.80" rx="1.20" fill="#000"/>
<text x="345.30" y="452.95" font-size="8.7" text-anchor="middle" textLength="14.5" lengthAdjust="spacingAndGlyphs" fill="#000" stroke="#000" stroke-width="0.15">P+4</text>
<rect x="360.00" y="456.75" width="30.60" height="4.80" rx="1.20" fill="#000"/>
<text x="345.30" y="462.45" font-size="8.7" text-anchor="middle" textLength="14.5" lengthAdjust="spacingAndGlyphs" fill="#000" stroke="#000" stroke-width="0.15">P+8</text>
<line x1="335.00" y1="428.15" x2="335.00" y2="462.95" stroke="#000" stroke-width="1.3"/>
<text x="331.60" y="447.90" font-size="8.7" text-anchor="end" textLength="27.7" lengthAdjust="spacingAndGlyphs" fill="#000" stroke="#000" stroke-width="0.15">CD80-1</text>
<rect x="360.00" y="475.40" width="36.00" height="4.80" rx="1.20" fill="#000"/>
<line x1="395.50" y1="477.80" x2="405.00" y2="477.80" stroke="#000" stroke-width="1.2"/>
<line x1="405.00" y1="476.30" x2="405.00" y2="479.30" stroke="#000" stroke-width="1.4"/>
<text x="345.30" y="481.10" font-size="8.7" text-anchor="middle" textLength="6.7" lengthAdjust="spacingAndGlyphs" fill="#000" stroke="#000" stroke-width="0.15">m</text>
<rect x="360.00" y="484.90" width="99.00" height="4.80" rx="1.20" fill="#000"/>
<line x1="458.50" y1="487.30" x2="483.60" y2="487.30" stroke="#000" stroke-width="1.2"/>
<line x1="483.60" y1="485.80" x2="483.60" y2="488.80" stroke="#000" stroke-width="1.4"/>
<text x="345.30" y="490.60" font-size="8.7" text-anchor="middle" textLength="5.3" lengthAdjust="spacingAndGlyphs" fill="#000" stroke="#000" stroke-width="0.15">P</text>
<rect x="360.00" y="494.40" width="99.00" height="4.80" rx="1.20" fill="#000"/>
<line x1="458.50" y1="496.80" x2="480.00" y2="496.80" stroke="#000" stroke-width="1.2"/>
<line x1="480.00" y1="495.30" x2="480.00" y2="498.30" stroke="#000" stroke-width="1.4"/>
<text x="345.30" y="500.10" font-size="8.7" text-anchor="middle" textLength="14.5" lengthAdjust="spacingAndGlyphs" fill="#000" stroke="#000" stroke-width="0.15">P+4</text>
<rect x="360.00" y="503.90" width="99.00" height="4.80" rx="1.20" fill="#000"/>
<line x1="458.50" y1="506.30" x2="484.80" y2="506.30" stroke="#000" stroke-width="1.2"/>
<line x1="484.80" y1="504.80" x2="484.80" y2="507.80" stroke="#000" stroke-width="1.4"/>
<text x="345.30" y="509.60" font-size="8.7" text-anchor="middle" textLength="14.5" lengthAdjust="spacingAndGlyphs" fill="#000" stroke="#000" stroke-width="0.15">P+8</text>
<line x1="335.00" y1="475.30" x2="335.00" y2="510.10" stroke="#000" stroke-width="1.3"/>
<text x="331.60" y="495.05" font-size="8.7" text-anchor="end" textLength="27.7" lengthAdjust="spacingAndGlyphs" fill="#000" stroke="#000" stroke-width="0.15">CD86-1</text>
<rect x="360.00" y="522.55" width="24.00" height="4.80" rx="1.20" fill="#000"/>
<text x="345.30" y="528.25" font-size="8.7" text-anchor="middle" textLength="6.7" lengthAdjust="spacingAndGlyphs" fill="#000" stroke="#000" stroke-width="0.15">m</text>
<rect x="360.00" y="532.05" width="52.80" height="4.80" rx="1.20" fill="#000"/>
<line x1="412.30" y1="534.45" x2="429.60" y2="534.45" stroke="#000" stroke-width="1.2"/>
<line x1="429.60" y1="532.95" x2="429.60" y2="535.95" stroke="#000" stroke-width="1.4"/>
<text x="345.30" y="537.75" font-size="8.7" text-anchor="middle" textLength="5.3" lengthAdjust="spacingAndGlyphs" fill="#000" stroke="#000" stroke-width="0.15">P</text>
<rect x="360.00" y="541.55" width="49.20" height="4.80" rx="1.20" fill="#000"/>
<line x1="408.70" y1="543.95" x2="417.60" y2="543.95" stroke="#000" stroke-width="1.2"/>
<line x1="417.60" y1="542.45" x2="417.60" y2="545.45" stroke="#000" stroke-width="1.4"/>
<text x="345.30" y="547.25" font-size="8.7" text-anchor="middle" textLength="14.5" lengthAdjust="spacingAndGlyphs" fill="#000" stroke="#000" stroke-width="0.15">P+4</text>
<rect x="360.00" y="551.05" width="52.80" height="4.80" rx="1.20" fill="#000"/>
<line x1="412.30" y1="553.45" x2="429.60" y2="553.45" stroke="#000" stroke-width="1.2"/>
<line x1="429.60" y1="551.95" x2="429.60" y2="554.95" stroke="#000" stroke-width="1.4"/>
<text x="345.30" y="556.75" font-size="8.7" text-anchor="middle" textLength="14.5" lengthAdjust="spacingAndGlyphs" fill="#000" stroke="#000" stroke-width="0.15">P+8</text>
<line x1="335.00" y1="522.45" x2="335.00" y2="557.25" stroke="#000" stroke-width="1.3"/>
<text x="331.60" y="540.50" font-size="8.7" text-anchor="end" textLength="27.7" lengthAdjust="spacingAndGlyphs" fill="#000" stroke="#000" stroke-width="0.15">CD86-2</text>
<rect x="360.00" y="569.70" width="12.00" height="4.80" rx="1.20" fill="#000"/>
<text x="345.30" y="575.40" font-size="8.7" text-anchor="middle" textLength="6.7" lengthAdjust="spacingAndGlyphs" fill="#000" stroke="#000" stroke-width="0.15">m</text>
<rect x="360.00" y="579.20" width="57.60" height="4.80" rx="1.20" fill="#000"/>
<line x1="417.10" y1="581.60" x2="427.20" y2="581.60" stroke="#000" stroke-width="1.2"/>
<line x1="427.20" y1="580.10" x2="427.20" y2="583.10" stroke="#000" stroke-width="1.4"/>
<text x="345.30" y="584.90" font-size="8.7" text-anchor="middle" textLength="5.3" lengthAdjust="spacingAndGlyphs" fill="#000" stroke="#000" stroke-width="0.15">P</text>
<rect x="360.00" y="588.70" width="117.60" height="4.80" rx="1.20" fill="#000"/>
<line x1="477.10" y1="591.10" x2="488.40" y2="591.10" stroke="#000" stroke-width="1.2"/>
<line x1="488.40" y1="589.60" x2="488.40" y2="592.60" stroke="#000" stroke-width="1.4"/>
<text x="345.30" y="594.40" font-size="8.7" text-anchor="middle" textLength="14.5" lengthAdjust="spacingAndGlyphs" fill="#000" stroke="#000" stroke-width="0.15">P+4</text>
<rect x="360.00" y="598.20" width="118.80" height="4.80" rx="1.20" fill="#000"/>
<line x1="478.30" y1="600.60" x2="490.80" y2="600.60" stroke="#000" stroke-width="1.2"/>
<line x1="490.80" y1="599.10" x2="490.80" y2="602.10" stroke="#000" stroke-width="1.4"/>
<text x="345.30" y="603.90" font-size="8.7" text-anchor="middle" textLength="14.5" lengthAdjust="spacingAndGlyphs" fill="#000" stroke="#000" stroke-width="0.15">P+8</text>
<line x1="335.00" y1="569.60" x2="335.00" y2="604.40" stroke="#000" stroke-width="1.3"/>
<text x="331.60" y="587.25" font-size="8.7" text-anchor="end" textLength="31.8" lengthAdjust="spacingAndGlyphs" fill="#000" stroke="#000" stroke-width="0.15">IL-12p40</text>
<line x1="360.00" y1="604.90" x2="360.00" y2="607.90" stroke="#000" stroke-width="1.2"/>
<text x="360.00" y="616.10" font-size="7" font-weight="bold" text-anchor="middle" fill="#000" stroke="#000" stroke-width="0.2">0.0</text>
<line x1="390.20" y1="604.90" x2="390.20" y2="607.90" stroke="#000" stroke-width="1.2"/>
<text x="390.20" y="616.10" font-size="7" font-weight="bold" text-anchor="middle" fill="#000" stroke="#000" stroke-width="0.2">2.5</text>
<line x1="420.40" y1="604.90" x2="420.40" y2="607.90" stroke="#000" stroke-width="1.2"/>
<text x="420.40" y="616.10" font-size="7" font-weight="bold" text-anchor="middle" fill="#000" stroke="#000" stroke-width="0.2">5.0</text>
<line x1="450.60" y1="604.90" x2="450.60" y2="607.90" stroke="#000" stroke-width="1.2"/>
<text x="450.60" y="616.10" font-size="7" font-weight="bold" text-anchor="middle" fill="#000" stroke="#000" stroke-width="0.2">7.5</text>
<line x1="480.80" y1="604.90" x2="480.80" y2="607.90" stroke="#000" stroke-width="1.2"/>
<text x="480.80" y="616.10" font-size="7" font-weight="bold" text-anchor="middle" fill="#000" stroke="#000" stroke-width="0.2">10.0</text>
<line x1="511.00" y1="604.90" x2="511.00" y2="607.90" stroke="#000" stroke-width="1.2"/>
<text x="511.00" y="616.10" font-size="7" font-weight="bold" text-anchor="middle" fill="#000" stroke="#000" stroke-width="0.2">12.5</text>
<text x="386.60" y="626.00" font-size="7.8" font-weight="bold" text-anchor="start" textLength="97.4" lengthAdjust="spacingAndGlyphs" fill="#000" stroke="#000" stroke-width="0.25">Relative luciferase activity</text>
</svg></body></html>
